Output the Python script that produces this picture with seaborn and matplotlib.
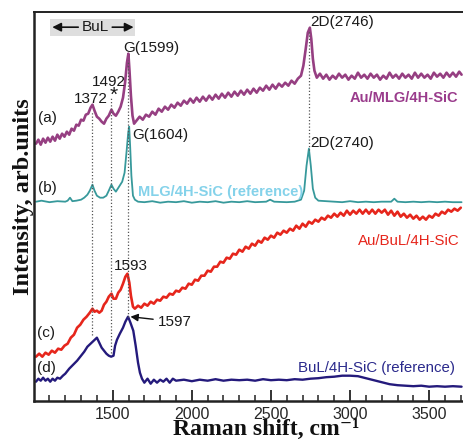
import matplotlib
matplotlib.use("Agg")
import matplotlib.pyplot as plt
import seaborn as sns
import numpy as np
import pandas as pd
from matplotlib.ticker import FixedLocator
from matplotlib.patches import Rectangle

# ---------------- data ----------------
wn_a = [1015,1030,1045,1060,1075,1090,1105,1120,1135,1150,1165,1180,1195,1210,1225,1240,1255,1270,1285,1300,
        1315,1330,1345,1360,1372,1385,1400,1415,1430,1445,1460,1475,1492,1505,1520,1535,1550,1565,1578,1590,
        1599,1606,1615,1625,1635,1650,1670,1690,1710,1730,1750,1770,1790,1810,1830,1850,1870,1890,1910,1930,
        1950,1970,1990,2010,2030,2050,2070,2090,2110,2130,2150,2170,2190,2210,2230,2250,2270,2290,2310,2330,
        2350,2370,2390,2410,2430,2450,2470,2490,2510,2530,2550,2570,2590,2610,2630,2650,2670,2690,2705,2720,
        2733,2746,2755,2765,2775,2790,2810,2830,2850,2870,2890,2910,2930,2950,2970,2990,3010,3030,3050,3070,
        3090,3110,3130,3150,3170,3190,3210,3230,3250,3270,3290,3310,3330,3350,3370,3390,3410,3430,3450,3470,
        3490,3510,3530,3550,3570,3590,3610,3630,3650,3670,3690,3705]
int_a = [257,261,256,262,258,263,259,264,260,266,262,267,264,269,266,272,270,276,275,281,
         280,286,287,293,296,290,284,282,279,277,282,285,291,287,285,289,294,303,318,338,
         347,330,305,285,277,280,284,281,286,284,289,286,292,289,294,291,296,293,298,295,
         300,297,302,298,303,299,304,300,305,301,306,302,307,303,308,304,309,305,310,306,
         311,307,312,308,313,310,315,311,316,312,317,314,318,315,320,317,322,325,335,352,
         368,373,362,342,330,323,327,322,326,321,325,322,327,323,326,321,325,322,328,323,
         326,322,327,323,326,321,325,322,328,323,326,322,327,323,326,322,328,323,327,323,
         326,322,328,324,327,323,328,324,328,324,329,326]

wn_b = [1015,1050,1100,1150,1200,1215,1230,1245,1270,1300,1320,1340,1355,1372,1385,1400,1420,1440,1460,1475,
        1492,1505,1520,1540,1560,1575,1588,1598,1604,1610,1618,1628,1640,1660,1700,1750,1800,1850,1900,1950,
        2000,2050,2100,2150,2200,2250,2300,2350,2400,2470,2495,2520,2600,2650,2690,2710,2725,2740,2752,2765,
        2780,2800,2850,2900,2950,3000,3050,3100,3150,3200,3260,3280,3300,3350,3400,3450,3500,3550,3600,3650,3705]
int_b = [199,200,198.5,199.5,199,200,203,199.5,200,201,203,206,210,216,210,205,203,203,205,210,
         216,212,209,214,219,228,250,268,274,255,225,205,201,199,198.5,199.5,198,199,198.5,199.5,
         198,199,198.5,199.5,198,199,198.5,199.5,198.5,199,201,199,198.5,199,201,210,235,252,235,212,
         203,200,199.5,199,198.5,199.5,198.5,199,198.5,199,199,202,199,198.5,199,198.5,199,198.5,199,198.5,198.5]

wn_c = [1015,1035,1055,1075,1095,1115,1135,1155,1175,1195,1215,1235,1255,1275,1295,1315,1335,1355,1372,1385,
        1400,1415,1430,1445,1460,1475,1492,1505,1520,1535,1550,1565,1580,1593,1605,1615,1628,1640,1660,1680,
        1700,1720,1740,1760,1780,1800,1820,1840,1860,1880,1900,1920,1940,1960,1980,2000,2020,2040,2060,2080,
        2100,2120,2140,2160,2180,2200,2220,2240,2260,2280,2300,2320,2340,2360,2380,2400,2420,2440,2460,2480,
        2500,2520,2540,2560,2580,2600,2620,2640,2660,2680,2700,2720,2740,2760,2780,2800,2820,2840,2860,2880,
        2900,2920,2940,2960,2980,3000,3020,3040,3060,3080,3100,3120,3140,3160,3180,3200,3220,3240,3260,3280,
        3300,3320,3340,3360,3380,3400,3420,3440,3460,3480,3500,3520,3540,3560,3580,3600,3620,3640,3660,3680,3700]
int_c = [44,47,44,48,46,50,48,52,51,55,57,63,66,73,76,81,84,88,92,89,
         90,88,90,96,99,104,107,102,102,108,111,117,124,127,118,105,94,92,95,93,
         97,95,99,97,101,100,104,103,107,106,110,109,113,112,117,116,121,120,125,125,
         130,129,134,134,139,138,143,142,147,146,151,149,154,152,157,155,160,158,163,161,
         165,163,168,166,170,168,172,170,175,172,177,174,179,177,181,179,183,181,185,183,
         187,184,188,185,190,186,190,187,191,187,191,187,191,187,191,188,191,186,190,185,
         189,184,187,183,186,182,185,181,184,181,185,183,187,185,189,187,191,189,192,190,193]

wn_d = [1015,1030,1045,1060,1075,1090,1105,1120,1135,1150,1167,1185,1200,1225,1250,1275,1300,1320,1340,1360,
        1380,1400,1415,1430,1445,1460,1475,1490,1505,1515,1527,1545,1565,1580,1597,1612,1630,1645,1660,1672,
        1685,1700,1720,1740,1760,1780,1800,1820,1840,1860,1880,1900,1950,2000,2050,2100,2150,2200,2250,2300,
        2350,2400,2450,2500,2550,2600,2650,2700,2750,2800,2850,2900,2950,3000,3050,3100,3150,3200,3250,3300,
        3350,3400,3450,3500,3550,3600,3650,3705]
int_d = [19,22,20,23,20,22,19,22,20,23,22,25,27,32,36,40,45,49,54,57,
         60,63,58,53,50,47,45,44,45,55,61,67,73,79,84,78,70,55,38,28,
         22,18,22,17,21,18,21,19,22,18,22,20,21,19.5,21,20,21.5,20,21,20.5,
         21,20,21.5,20.5,21,20.5,21.5,21,22,22.5,23.5,24,25,25,24.5,22.5,20.5,18.5,16.5,15.5,
         15,14.5,15,14,14.5,14,14.5,14]

series_names = ["Au/MLG/4H-SiC", "MLG/4H-SiC (reference)", "Au/BuL/4H-SiC", "BuL/4H-SiC (reference)"]
line_colors = ["#963f82", "#37999b", "#e6261c", "#241a7c"]
label_colors = ["#9a3c8c", "#84d2ea", "#e6261c", "#2b2a8c"]
xticks_major = [1500, 2000, 2500, 3000, 3500]

# ---------------- plot ----------------
sns.set_theme(style="white")
plt.rcParams["font.family"] = ["Liberation Sans", "DejaVu Sans"]

fig = plt.figure(figsize=(4.63, 4.41), dpi=100)
ax = fig.add_axes([0.0726, 0.0914, 0.9274, 0.8803])

frames = [(wn_a, int_a, 0, 1.9), (wn_b, int_b, 1, 1.3), (wn_c, int_c, 2, 1.9), (wn_d, int_d, 3, 1.7)]
for wn, it, k, lw in frames:
    df = pd.DataFrame({"wn": wn, "I": it})
    sns.lineplot(data=df, x="wn", y="I", ax=ax, color=line_colors[k], lw=lw,
                 sort=False, estimator=None)

ax.set_xlim(1000, 3714)
ax.set_ylim(0, 388.2)

# dotted guide lines
dot = dict(color="#555555", lw=0.9, ls=(0, (1, 1.6)))
ax.plot([1372, 1372], [66, 289], **dot)
ax.plot([1492, 1492], [48, 303], **dot)
ax.plot([1599, 1599], [84, 341], **dot)
ax.plot([2743, 2743], [251, 371], **dot)

# axes styling
ax.spines["right"].set_visible(False)
for s in ["left", "bottom", "top"]:
    ax.spines[s].set_color("#222222")
ax.spines["left"].set_linewidth(1.8)
ax.spines["bottom"].set_linewidth(1.8)
ax.spines["top"].set_linewidth(1.4)

ax.xaxis.set_major_locator(FixedLocator(xticks_major))
ax.xaxis.set_minor_locator(FixedLocator(list(range(1100, 3701, 100))))
ax.tick_params(axis="x", which="major", direction="in", length=8, width=1.3, color="#222222",
               labelsize=11.5, pad=4.5, bottom=True, top=False)
ax.tick_params(axis="x", which="minor", direction="in", length=4.5, width=1.1, color="#222222",
               bottom=True, top=False)
ax.set_yticks([])
ax.tick_params(axis="y", left=False, labelleft=False)

serif = ["Liberation Serif", "DejaVu Serif"]
ax.set_xlabel("Raman shift, cm\u207b\u00b9", fontsize=17, fontweight="bold", family=serif, color="#111111",
              va="baseline")
ax.xaxis.set_label_coords(0.541, -0.089)
ax.set_ylabel("Intensity, arb.units", fontsize=17.5, fontweight="bold", family=serif, color="#111111")
ax.yaxis.set_label_coords(0.0, 0.525)

fs = 11
tk = "#1a1a1a"
ax.text(1566, 353, "G(1599)", fontsize=fs, color=tk, ha="left", va="center")
ax.text(1477, 319, "1492", fontsize=fs, color=tk, ha="center", va="center")
ax.text(1508, 305, "*", fontsize=15, color=tk, ha="center", va="center")
ax.text(1363, 302, "1372", fontsize=fs, color=tk, ha="center", va="center")
ax.text(1085, 283, "(a)", fontsize=fs, color=tk, ha="center", va="center")
ax.text(1622, 266, "G(1604)", fontsize=fs, color=tk, ha="left", va="center")
ax.text(1085, 213, "(b)", fontsize=fs, color=tk, ha="center", va="center")
ax.text(2747, 379, "2D(2746)", fontsize=fs, color=tk, ha="left", va="center")
ax.text(2747, 258, "2D(2740)", fontsize=fs, color=tk, ha="left", va="center")
ax.text(1616, 135, "1593", fontsize=fs, color=tk, ha="center", va="center")
ax.text(1079, 68, "(c)", fontsize=fs, color=tk, ha="center", va="center")
ax.text(1079, 33, "(d)", fontsize=fs, color=tk, ha="center", va="center")
ax.annotate("1597", xy=(1612, 84), xytext=(1785, 79), fontsize=fs, color=tk, ha="left", va="center",
            arrowprops=dict(arrowstyle="-|>", color="#111111", lw=1.0, mutation_scale=11,
                            shrinkA=1, shrinkB=0))

ax.text(3683, 303, series_names[0], fontsize=10.5, color=label_colors[0], ha="right", va="center",
        fontweight="bold")
ax.text(1661, 209, series_names[1], fontsize=10.5, color=label_colors[1], ha="left", va="center",
        fontweight="bold")
ax.text(3695, 160, series_names[2], fontsize=10.8, color=label_colors[2], ha="right", va="center")
ax.text(3664, 33, series_names[3], fontsize=10.8, color=label_colors[3], ha="right", va="center")

# BuL box
ax.add_patch(Rectangle((1104, 364.7), 538, 16.7, facecolor="#dedede", edgecolor="none", zorder=1))
ax.text(1388, 373.5, "BuL", fontsize=fs, color=tk, ha="center", va="center", zorder=3)
ax.annotate("", xy=(1118, 373.5), xytext=(1282, 373.5),
            arrowprops=dict(arrowstyle="-|>", color="#111111", lw=1.2, mutation_scale=13, shrinkA=0, shrinkB=0))
ax.annotate("", xy=(1632, 373.5), xytext=(1497, 373.5),
            arrowprops=dict(arrowstyle="-|>", color="#111111", lw=1.2, mutation_scale=13, shrinkA=0, shrinkB=0))

fig.savefig("out.png", dpi=100)
